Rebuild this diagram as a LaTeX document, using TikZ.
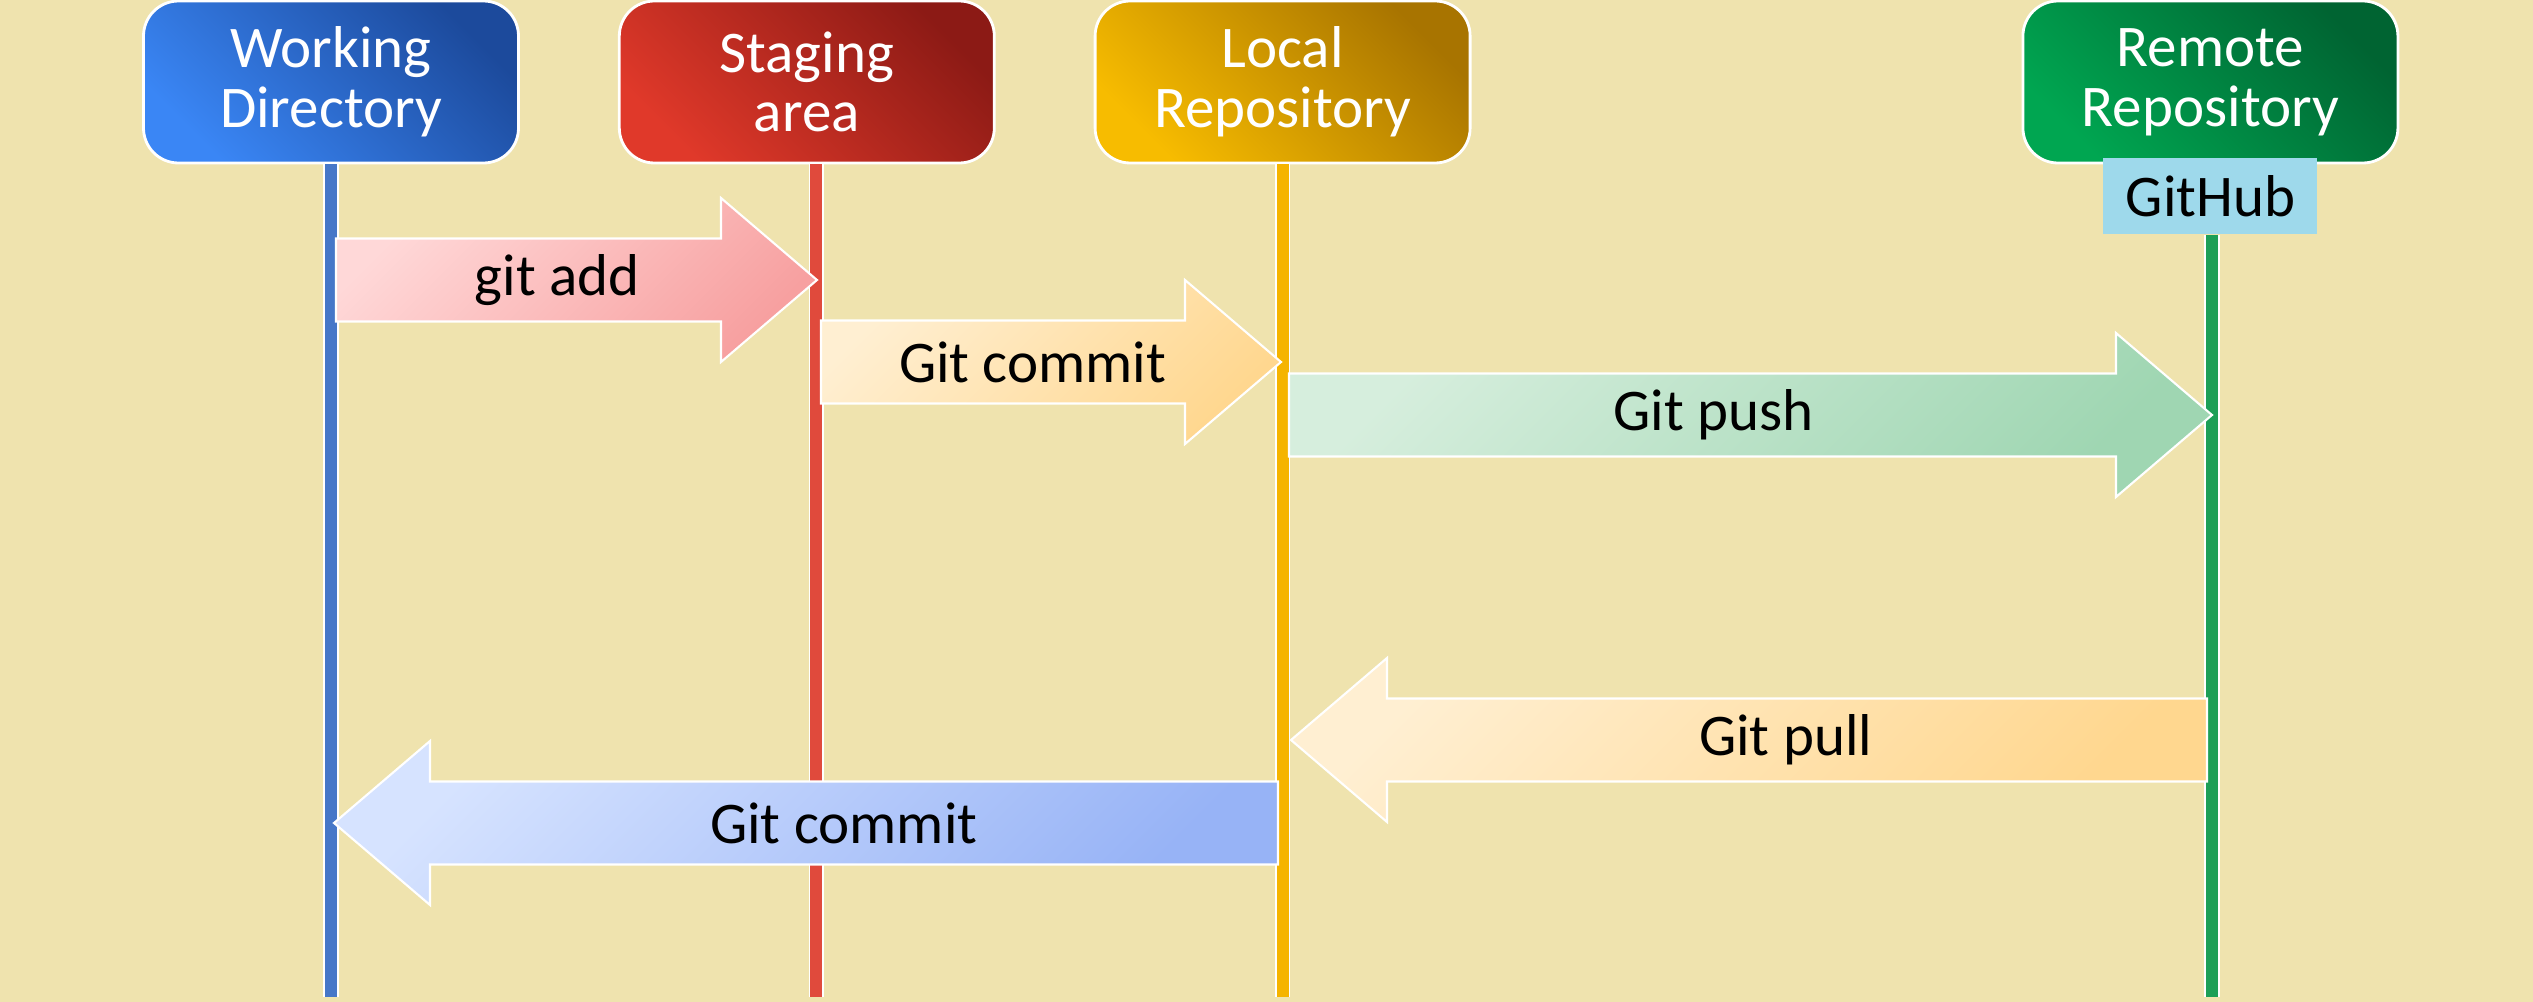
\documentclass[tikz,border=0pt]{standalone}
\usepackage{fontspec}
\setmainfont{Carlito}
\usetikzlibrary{calc,positioning}
\definecolor{bgyellow}{HTML}{EFE3AE}
\definecolor{wdA}{HTML}{3A86F5}
\definecolor{wdB}{HTML}{1C4A9C}
\definecolor{stA}{HTML}{E0392A}
\definecolor{stB}{HTML}{8C1A15}
\definecolor{lcA}{HTML}{F7BC00}
\definecolor{lcB}{HTML}{A87400}
\definecolor{rmA}{HTML}{00A651}
\definecolor{rmB}{HTML}{006432}
\definecolor{lwd}{HTML}{4677C8}
\definecolor{lst}{HTML}{E04A3C}
\definecolor{llc}{HTML}{F5B400}
\definecolor{lrm}{HTML}{1D9F57}
\definecolor{addA}{HTML}{FFD8D8}
\definecolor{addB}{HTML}{F7A0A0}
\definecolor{cmA}{HTML}{FFEFD2}
\definecolor{cmB}{HTML}{FFD78F}
\definecolor{pushA}{HTML}{D6EEDD}
\definecolor{pushB}{HTML}{9FD6B2}
\definecolor{bcA}{HTML}{D6E3FF}
\definecolor{bcB}{HTML}{97B3F6}
\definecolor{hubblue}{HTML}{9ED9EB}
\newcommand{\lblsize}{\fontsize{16.8}{17}\selectfont}
% block arrow: name, tail, tip, fill style, label
\newcommand{\gitarrow}[5]{%
  \coordinate (hb) at ($(#3)!0.96cm!(#2)$);
  \draw[#4, flow]
    ($(#2)!0.415cm!90:(#3)$) -- ($(hb)!0.415cm!-90:(#2)$) -- ($(hb)!0.82cm!-90:(#2)$)
    -- (#3) -- ($(hb)!0.82cm!90:(#2)$) -- ($(hb)!0.415cm!90:(#2)$)
    -- ($(#2)!0.415cm!-90:(#3)$) -- cycle;
  \node[lbl] (#1) at ($(#2)!0.46!(#3)$) {#5};
}

\begin{document}
\begin{tikzpicture}[
    node distance=0.98cm,
    box/.style={rounded corners=0.35cm, draw=white, line width=0.8pt,
                minimum width=3.75cm, minimum height=1.62cm,
                align=center, text=white, font=\lblsize, shading angle=135},
    wdfill/.style={left color=wdA, right color=wdB},
    stfill/.style={left color=stA, right color=stB},
    lcfill/.style={left color=lcA, right color=lcB},
    rmfill/.style={left color=rmA, right color=rmB},
    life/.style={draw=white, line width=0.5pt, double distance=0.12cm},
    flow/.style={draw=white, line width=0.6pt, shading angle=45},
    lbl/.style={font=\lblsize, text=black},
    hub/.style={fill=hubblue, minimum width=2.14cm, minimum height=0.76cm,
                inner sep=0pt, font=\lblsize}
  ]
    \useasboundingbox (0,0) rectangle (25.33,-10.02);
    \fill[bgyellow] (0,0) rectangle (25.33,-10.02);

    \node[wdfill, box] (wd) at (3.31,-0.82) {Working\\Directory};
    \node[stfill, box, right=of wd]       (stg) {Staging\\area};
    \node[lcfill, box, right=of stg]      (loc) {Local\\Repository};
    \node[rmfill, box, right=5.50cm of loc] (rem) {Remote\\Repository};
    \node[hub, below=-0.07cm of rem]      (git) {GitHub};

    % lifelines
    \draw[life, double=lwd] (wd.south) -- (wd.south |- 0,-9.97);
    \draw[life, double=lst] ([xshift=0.95mm]stg.south) -- ([xshift=0.95mm]stg.south |- 0,-9.97);
    \draw[life, double=llc] (loc.south) -- (loc.south |- 0,-9.97);
    \draw[life, double=lrm] ([xshift=0.15mm]git.south) -- ([xshift=0.15mm]git.south |- 0,-9.97);

    \coordinate (addS)  at (3.36,-2.80);
    \coordinate (addE)  at (8.17,-2.80);
    \coordinate (cmS)   at (8.21,-3.62);
    \coordinate (cmE)   at (12.81,-3.62);
    \coordinate (pushS) at (12.89,-4.15);
    \coordinate (pushE) at (22.12,-4.15);
    \coordinate (pullS) at (22.07,-7.40);
    \coordinate (pullE) at (12.91,-7.40);
    \coordinate (bcS)   at (12.78,-8.23);
    \coordinate (bcE)   at (3.34,-8.23);

    \gitarrow{add}{addS}{addE}{left color=addA, right color=addB}{git add}
    \gitarrow{commit}{cmS}{cmE}{left color=cmA, right color=cmB}{Git commit}
    \gitarrow{push}{pushS}{pushE}{left color=pushA, right color=pushB}{Git push}
    \gitarrow{pull}{pullS}{pullE}{left color=cmA, right color=cmB}{Git pull}
    \gitarrow{back}{bcS}{bcE}{left color=bcA, right color=bcB}{Git commit}
\end{tikzpicture}
\end{document}
